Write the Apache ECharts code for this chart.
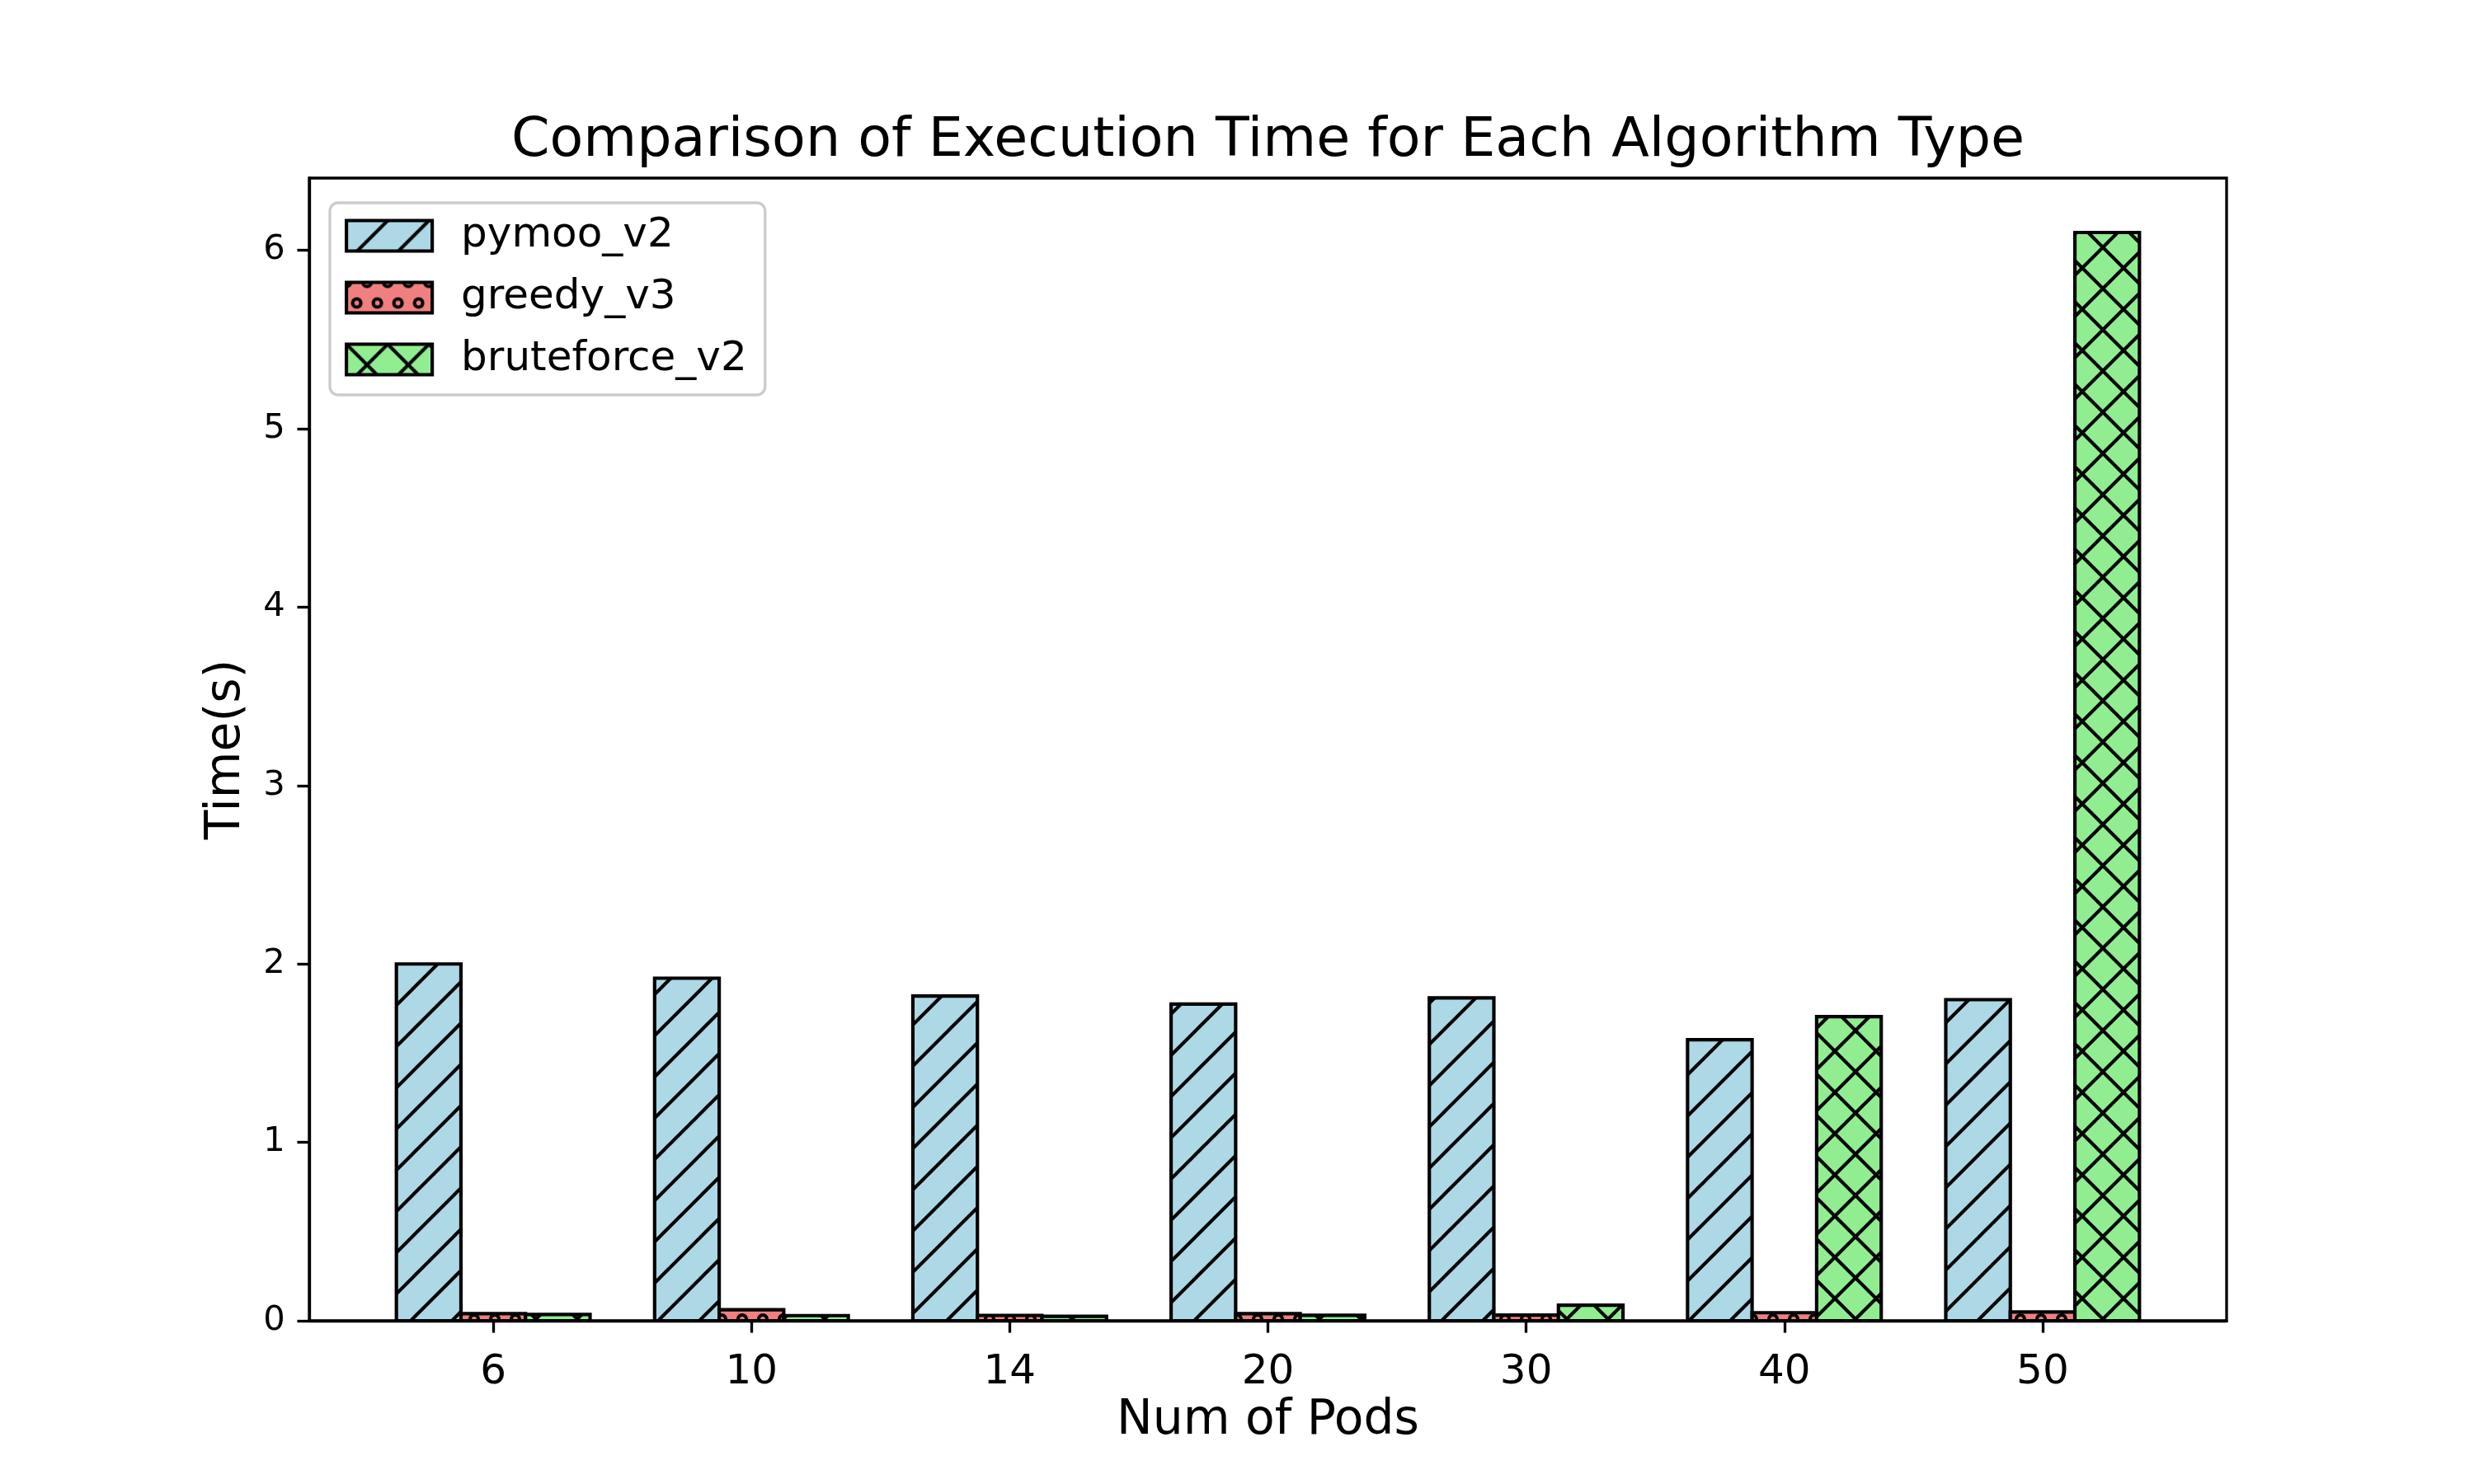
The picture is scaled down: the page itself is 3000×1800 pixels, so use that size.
<!DOCTYPE html>
<html><head><meta charset="utf-8">
<script src="https://cdn.jsdelivr.net/npm/echarts@6/dist/echarts.min.js"></script>
<style>html,body{margin:0;padding:0;background:#fff}#c{width:3000px;height:1800px}</style>
</head><body><div id="c"></div>
<script>
// ---- data ----
const categories = ['6', '10', '14', '20', '30', '40', '50'];
const pymoo_v2 = [2.00, 1.92, 1.82, 1.775, 1.81, 1.575, 1.80];
const greedy_v3 = [0.040, 0.062, 0.030, 0.040, 0.032, 0.045, 0.049];
const bruteforce_v2 = [0.035, 0.029, 0.025, 0.031, 0.087, 1.705, 6.10];
const yTicks = [0, 1, 2, 3, 4, 5, 6];
const seriesNames = ['pymoo_v2', 'greedy_v3', 'bruteforce_v2'];

// ---- layout (matplotlib-like) ----
const PT = 300 / 72;
const FONT = 'DejaVu Sans';
const G = { left: 375, right: 300, top: 216, bottom: 198 };
const plotW = 3000 - G.left - G.right;
const nCat = categories.length;
const barUnit = 0.25;
const xMin = -barUnit * 1.5 - 0.05 * (nCat - 1 + barUnit * 3);
const xMax = (nCat - 1) + barUnit * 1.5 + 0.05 * (nCat - 1 + barUnit * 3);
const yMax = Math.max(...pymoo_v2, ...greedy_v3, ...bruteforce_v2) * 1.05;

function mk(w, h, bg) {
  const c = document.createElement('canvas'); c.width = w; c.height = h;
  const g = c.getContext('2d'); g.fillStyle = bg; g.fillRect(0, 0, w, h);
  g.strokeStyle = '#000'; g.lineWidth = PT; return [c, g];
}
function patSlash(bg) {
  const [c, g] = mk(50, 50, bg); g.beginPath();
  for (const k of [0, 50, 100]) { g.moveTo(k + 10, -10); g.lineTo(-10, k + 10); }
  g.stroke(); return c;
}
function patCross(bg) {
  const [c, g] = mk(50, 50, bg); g.beginPath();
  for (const k of [0, 50, 100]) { g.moveTo(k + 10, -10); g.lineTo(-10, k + 10); }
  for (const k of [-50, 0, 50]) { g.moveTo(k - 10, -10); g.lineTo(k + 60, 60); }
  g.stroke(); return c;
}
function patRings(bg) {
  const [c, g] = mk(25, 50, bg);
  for (const p of [[0, 0], [25, 0], [0, 50], [25, 50], [12.5, 25]]) {
    g.beginPath(); g.arc(p[0], p[1], 5, 0, Math.PI * 2); g.stroke();
  }
  return c;
}
const patterns = [patSlash('#add8e6'), patRings('#f08080'), patCross('#90ee90')];
const values = [pymoo_v2, greedy_v3, bruteforce_v2];

const series = seriesNames.map((name, s) => ({
  type: 'custom', name,
  data: values[s].map((v, i) => [i, v]),
  encode: { x: 0, y: 1 },
  itemStyle: { color: { image: patterns[s], repeat: 'repeat' }, borderColor: '#000', borderWidth: PT },
  renderItem: (params, api) => {
    const i = api.value(0), v = api.value(1);
    const off = (s - 1) * barUnit;
    const p0 = api.coord([i + off - barUnit / 2, v]);
    const p1 = api.coord([i + off + barUnit / 2, 0]);
    return {
      type: 'rect',
      shape: { x: p0[0], y: p0[1], width: p1[0] - p0[0], height: p1[1] - p0[1] },
      style: { fill: { image: patterns[s], repeat: 'repeat' }, stroke: '#000', lineWidth: PT }
    };
  },
  emphasis: { disabled: true }, silent: true
}));

const chart = echarts.init(document.getElementById('c'), null, { renderer: 'canvas' });
chart.setOption({
  animation: false,
  backgroundColor: '#fff',
  textStyle: { fontFamily: FONT, color: '#000' },
  title: {
    text: 'Comparison of Execution Time for Each Algorithm Type',
    left: G.left + plotW / 2, top: 172, padding: 0,
    textAlign: 'center', textVerticalAlign: 'middle',
    textStyle: { fontFamily: FONT, fontSize: 16 * PT, fontWeight: 'normal', color: '#000' }
  },
  legend: {
    data: seriesNames, orient: 'vertical', left: 400, top: 246,
    padding: [15, 22, 18, 18], itemWidth: 104, itemHeight: 37, itemGap: 25,
    icon: 'rect', backgroundColor: 'rgba(255,255,255,0.8)',
    borderColor: '#cccccc', borderWidth: 0.8 * PT, borderRadius: 10,
    itemStyle: { borderColor: '#000', borderWidth: PT },
    textStyle: { fontFamily: FONT, fontSize: 12 * PT, lineHeight: 12 * PT, color: '#000', padding: [0, 0, 0, 30] },
    selectedMode: false
  },
  grid: { left: G.left, right: G.right, top: G.top, bottom: G.bottom, show: true, borderColor: '#000', borderWidth: 0.8 * PT, backgroundColor: 'transparent' },
  xAxis: {
    type: 'value', min: xMin, max: xMax,
    name: 'Num of Pods', nameLocation: 'middle', nameGap: 92,
    nameTextStyle: { fontFamily: FONT, fontSize: 14 * PT, color: '#000' },
    axisLine: { show: true, onZero: false, lineStyle: { color: '#000', width: 0.8 * PT } },
    axisTick: { show: true, length: 3.5 * PT, lineStyle: { color: '#000', width: 0.8 * PT }, customValues: categories.map((c, i) => i) },
    axisLabel: { show: true, margin: 38, fontFamily: FONT, fontSize: 12 * PT, color: '#000', customValues: categories.map((c, i) => i), formatter: v => categories[Math.round(v)] },
    splitLine: { show: false }
  },
  yAxis: {
    type: 'value', min: 0, max: yMax, interval: 1,
    name: 'Time(s)', nameLocation: 'middle', nameGap: 71,
    nameTextStyle: { fontFamily: FONT, fontSize: 14 * PT, color: '#000' },
    axisLine: { show: true, onZero: false, lineStyle: { color: '#000', width: 0.8 * PT } },
    axisTick: { show: true, length: 3.5 * PT, lineStyle: { color: '#000', width: 0.8 * PT }, customValues: yTicks },
    axisLabel: { show: true, margin: 7 * PT, fontFamily: FONT, fontSize: 10 * PT, color: '#000', customValues: yTicks, formatter: v => String(Math.round(v)) },
    splitLine: { show: false }
  },
  series
});
</script></body></html>
